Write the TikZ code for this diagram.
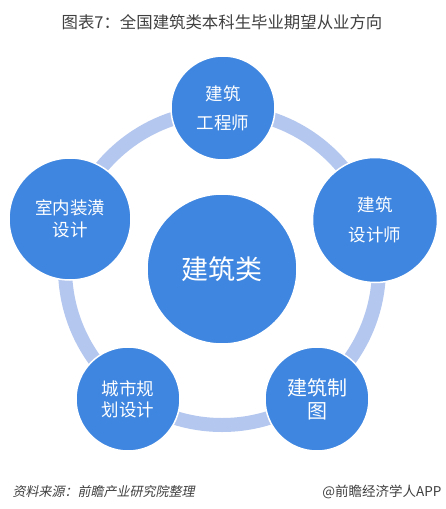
\documentclass[tikz,border=0pt]{standalone}
\usepackage{fontspec}
\newfontfamily\cjk{Noto Sans CJK SC}
\newfontfamily\cjkit[FakeSlant=0.2]{Noto Sans CJK SC}
\definecolor{ringblue}{HTML}{B4C7EF}
\definecolor{circblue}{HTML}{3F86E0}
\definecolor{titlegray}{HTML}{404040}
\begin{document}
\begin{tikzpicture}[x=1pt,y=-1pt,
  bub/.style={circle,fill=circblue,draw=white,line width=1.5pt,inner sep=0pt,
    minimum size=#1,text=white,align=center},
  small/.style={font=\cjk\fontsize{17.5}{#1}\selectfont},
  ringstyle/.style={circle,draw=ringblue,line width=14pt,minimum size=314pt,inner sep=0pt}]
\useasboundingbox (0,0) rectangle (446,509);
\fill[white] (0,0) rectangle (446,509);
\node[font=\cjk\fontsize{16.4}{18}\selectfont,text=titlegray] (title) at (222,22) {图表7：全国建筑类本科生毕业期望从业方向};
\node[ringstyle] (ring) at (222,268) {};
\node[bub=150pt,font=\cjk\fontsize{27}{30}\selectfont] (core) at (222,269) {建筑类};
\node[bub=104pt,small=29] (top) at (223,108) {建筑\\工程师};
\node[bub=125pt,small=30] (right) at (375,220) {建筑\\设计师};
\node[bub=122pt,small=22] (left) at (70,219) {室内装潢\\设计};
\node[bub=104pt,small=21] (bl) at (128,399) {城市规\\划设计};
\node[bub=104pt,font=\cjk\fontsize{20}{23}\selectfont] (br) at (317,399) {建筑制\\图};
\node[anchor=west,font=\cjkit\fontsize{13}{14}\selectfont,text=titlegray] (src) at (9,492) {资料来源：前瞻产业研究院整理};
\node[anchor=east,font=\cjk\fontsize{13.5}{14}\selectfont,text=titlegray] (brand) at (445,492) {@前瞻经济学人APP};
\end{tikzpicture}
\end{document}
